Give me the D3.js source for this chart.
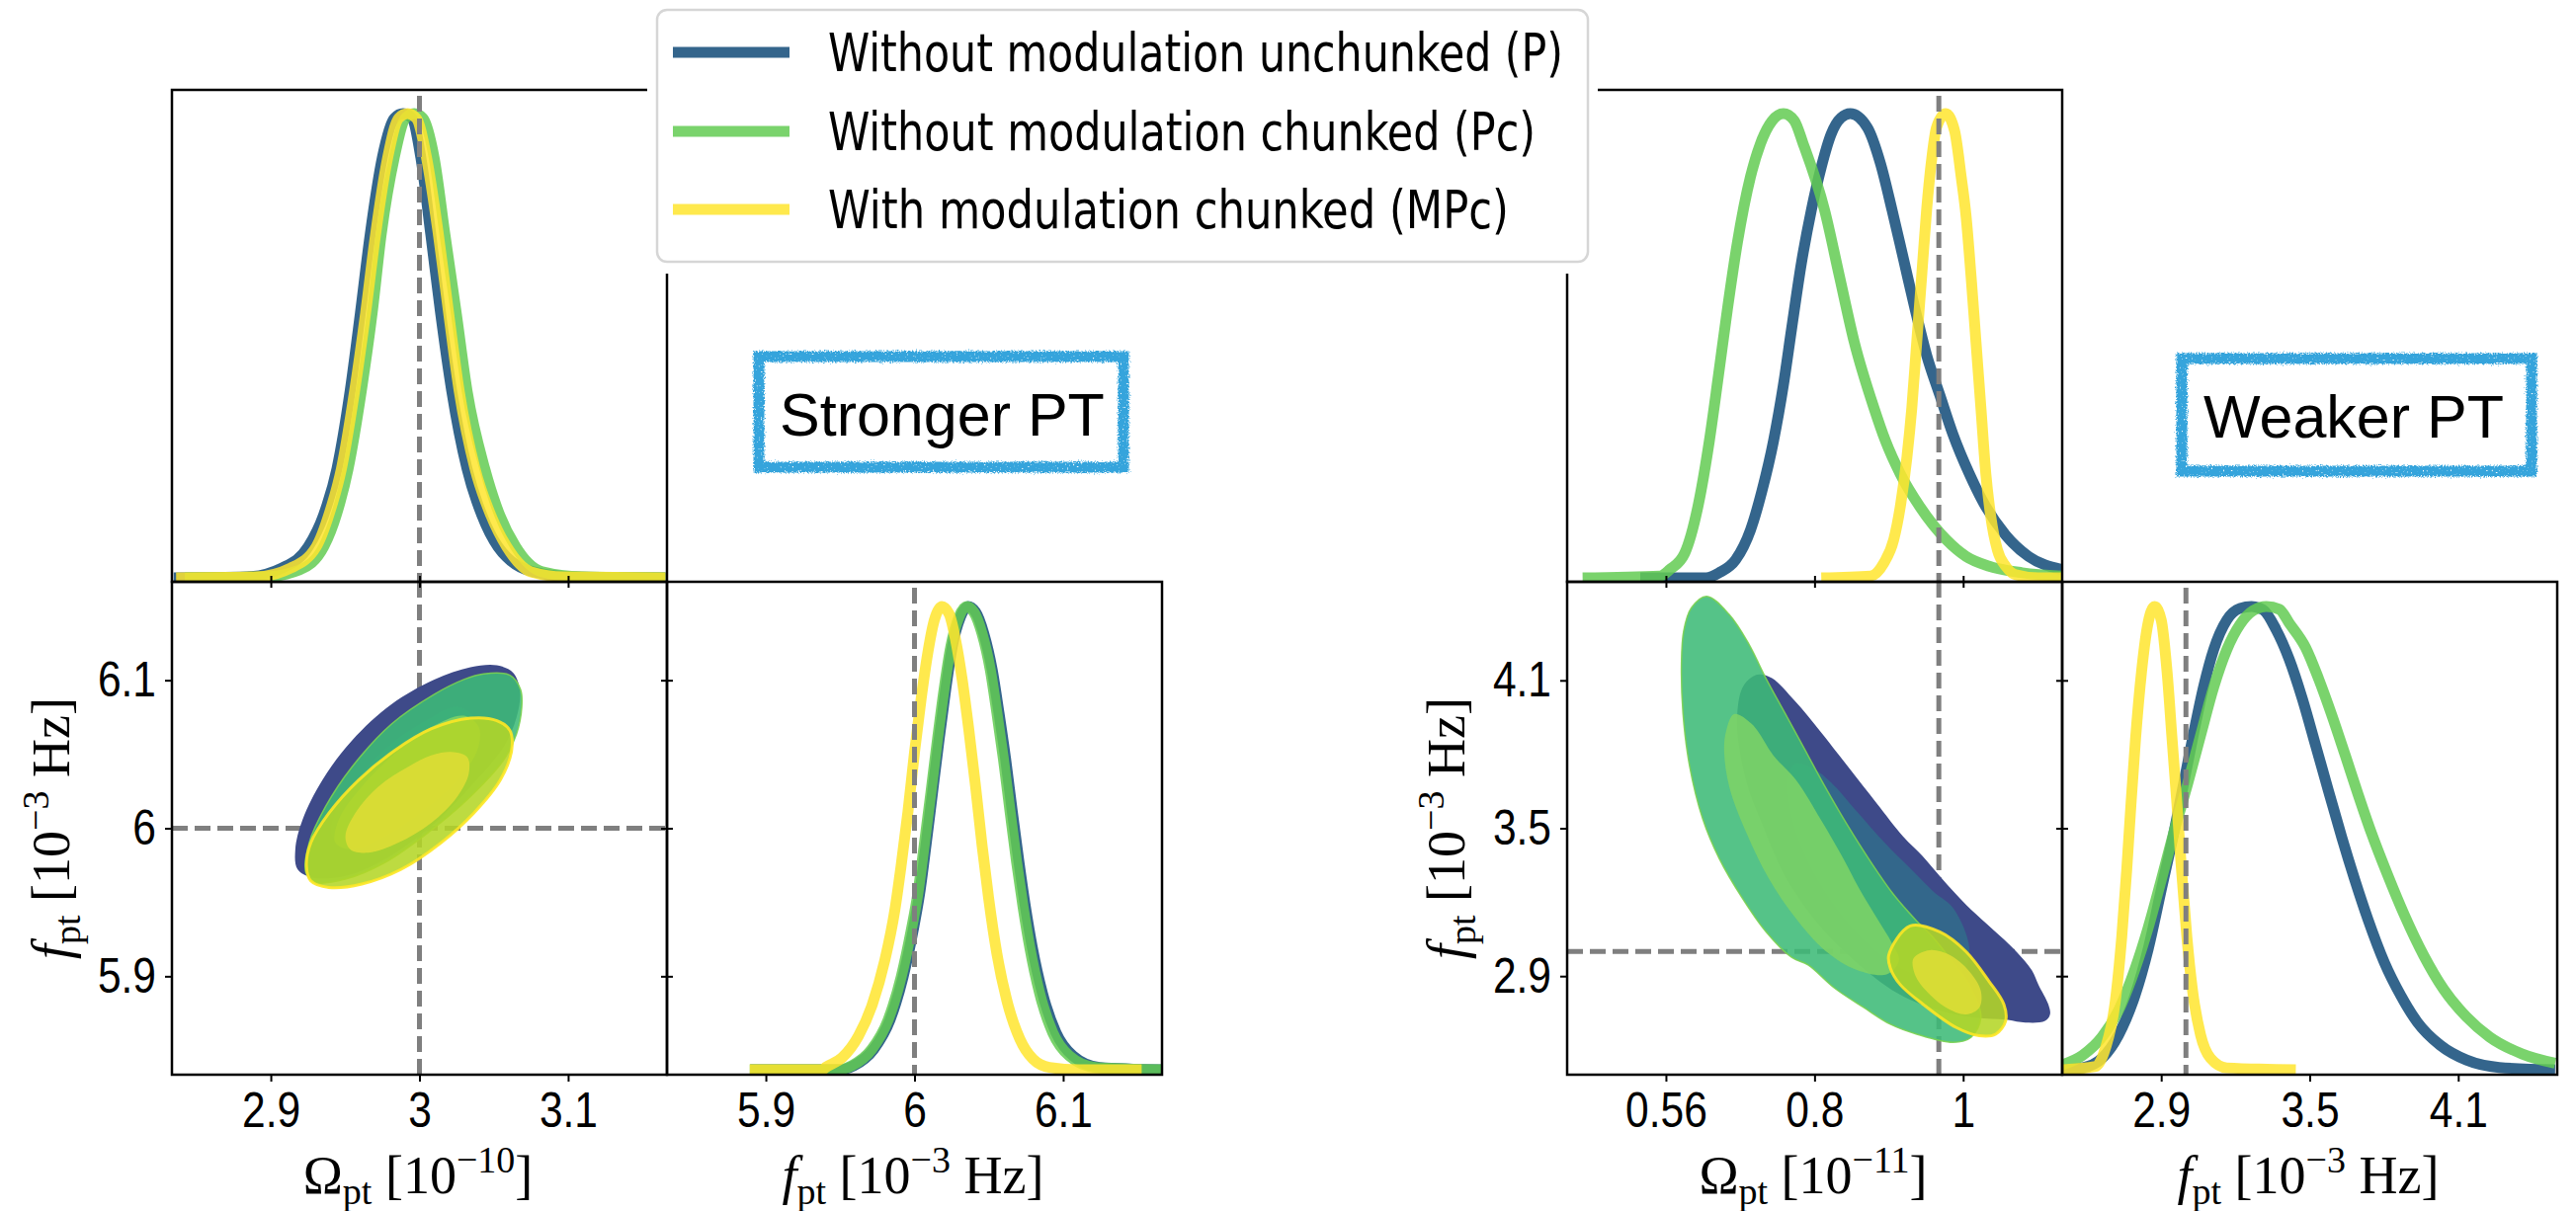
<!DOCTYPE html>
<html><head><meta charset="utf-8">
<script src="https://cdn.jsdelivr.net/npm/d3@7"></script>
<style>
html,body{margin:0;padding:0;background:#fff;}
svg{display:block;}
</style></head><body>
<svg id="chart" width="2607" height="1226"></svg>
<script>
// ---------------- DATA ----------------
const seriesNames = ["Without modulation unchunked (P)", "Without modulation chunked (Pc)", "With modulation chunked (MPc)"];
const panelTags = ["Stronger PT", "Weaker PT"];

// tick values and labels
const omegaTicksStrong = [2.9, 3.0, 3.1];
const omegaTickLabelsStrong = ["2.9", "3", "3.1"];
const freqTicksStrong = [5.9, 6.0, 6.1];
const freqTickLabelsStrong = ["5.9", "6", "6.1"];
const omegaTicksWeak = [0.56, 0.78, 1.0];
const omegaTickLabelsWeak = ["0.56", "0.8", "1"];
const freqTicksWeak = [2.9, 3.5, 4.1];
const freqTickLabelsWeak = ["2.9", "3.5", "4.1"];

// axis ranges
const omegaDomainStrong = [2.8335, 3.1665];
const freqDomainStrong = [5.8335, 6.1665];
const omegaDomainWeak = [0.4138, 1.1466];
const freqDomainWeak = [2.5, 4.5];

// injected (true) values: [Omega, f]
const truthStrong = [3.0, 6.0];
const truthWeak = [0.964, 3.0];

// ---- 1D marginals [value, normalised density] ----
const omegaStrongP = [[2.8347,0],[2.8837,0.002],[2.9074,0.021],[2.9252,0.067],[2.9355,0.135],[2.9445,0.235],[2.9534,0.403],[2.9603,0.571],[2.9668,0.738],[2.9751,0.906],[2.9831,0.99],[2.989,1.0],[2.995,0.99],[3.0009,0.906],[3.0077,0.738],[3.0142,0.571],[3.0217,0.403],[3.032,0.235],[3.042,0.135],[3.0528,0.067],[3.0765,0.013],[3.1033,0.002],[3.1655,0]];
const omegaStrongPc = [[2.8422,0],[2.8956,0.002],[2.9193,0.017],[2.9356,0.067],[2.9445,0.14],[2.952,0.235],[2.9609,0.403],[2.9682,0.571],[2.9742,0.738],[2.9831,0.906],[2.9905,0.99],[2.9964,1.0],[3.0024,0.99],[3.0098,0.906],[3.0172,0.738],[3.0247,0.571],[3.032,0.403],[3.0439,0.235],[3.054,0.135],[3.0647,0.067],[3.0825,0.013],[3.1092,0.002],[3.1655,0]];
const omegaStrongMPc = [[2.8363,0],[2.8896,0.002],[2.9133,0.021],[2.9306,0.067],[2.9395,0.14],[2.9475,0.235],[2.9564,0.403],[2.9638,0.571],[2.9704,0.738],[2.9787,0.906],[2.986,0.99],[2.992,1.0],[2.9979,0.99],[3.0047,0.906],[3.0128,0.738],[3.0196,0.571],[3.0267,0.403],[3.0374,0.235],[3.048,0.135],[3.0587,0.067],[3.075,0.013],[3.0973,0.002],[3.1655,0]];

const freqStrongP = [[5.8895,0],[5.950,0],[5.9592,0.009],[5.9725,0.044],[5.9836,0.108],[5.9924,0.201],[5.9991,0.301],[6.0034,0.379],[6.0078,0.486],[6.0122,0.600],[6.0166,0.714],[6.021,0.821],[6.0254,0.913],[6.0309,0.977],[6.036,1.0],[6.0411,0.988],[6.0466,0.942],[6.0523,0.863],[6.0568,0.771],[6.0613,0.671],[6.0658,0.557],[6.0702,0.450],[6.0747,0.350],[6.0792,0.265],[6.0861,0.165],[6.0952,0.080],[6.1066,0.030],[6.1245,0.005],[6.1661,0]];
const freqStrongPc = [[5.8892,0],[5.949,0],[5.9579,0.009],[5.9712,0.044],[5.9823,0.108],[5.9911,0.201],[5.9978,0.301],[6.0022,0.379],[6.0066,0.486],[6.0111,0.600],[6.0155,0.714],[6.0199,0.821],[6.0244,0.913],[6.0299,0.977],[6.035,1.0],[6.0399,0.988],[6.0454,0.942],[6.051,0.863],[6.0554,0.771],[6.0598,0.671],[6.0643,0.557],[6.0686,0.450],[6.0731,0.350],[6.0775,0.265],[6.0842,0.165],[6.093,0.080],[6.1041,0.030],[6.1218,0.005],[6.1661,0]];
const freqStrongMPc = [[5.8892,0],[5.938,0],[5.9402,0.005],[5.9513,0.026],[5.9623,0.073],[5.9712,0.137],[5.9801,0.237],[5.9867,0.343],[5.9911,0.443],[5.9956,0.557],[6.0,0.685],[6.0044,0.799],[6.0089,0.899],[6.0133,0.970],[6.0184,1.0],[6.0233,0.984],[6.0277,0.927],[6.0321,0.842],[6.0365,0.735],[6.041,0.614],[6.0454,0.486],[6.0498,0.372],[6.0554,0.251],[6.062,0.151],[6.0709,0.066],[6.0797,0.023],[6.0908,0.005],[6.1108,0],[6.1528,0]];

const omegaWeakP = [[0.522,0],[0.6195,0],[0.6389,0.011],[0.6633,0.039],[0.6852,0.103],[0.7023,0.188],[0.7193,0.295],[0.734,0.416],[0.7461,0.537],[0.7607,0.679],[0.7753,0.792],[0.79,0.885],[0.8046,0.956],[0.8192,0.991],[0.8329,1.0],[0.8582,0.970],[0.8777,0.892],[0.8948,0.792],[0.9118,0.686],[0.9288,0.579],[0.9459,0.480],[0.9654,0.394],[0.985,0.309],[1.0092,0.224],[1.0336,0.153],[1.0629,0.092],[1.0969,0.046],[1.1457,0.018]];
const omegaWeakPc = [[0.4367,0],[0.5512,0.004],[0.5658,0.018],[0.5878,0.053],[0.6073,0.153],[0.6243,0.295],[0.6379,0.437],[0.6511,0.579],[0.6657,0.721],[0.6852,0.864],[0.6999,0.935],[0.7169,0.984],[0.734,1.0],[0.75,0.985],[0.7632,0.935],[0.7949,0.792],[0.8168,0.650],[0.8388,0.508],[0.868,0.366],[0.885,0.295],[0.9069,0.224],[0.9361,0.153],[0.9751,0.082],[1.0044,0.046],[1.0385,0.025],[1.0873,0.011],[1.1457,0.004]];
const omegaWeakMPc = [[0.79,0],[0.863,0.004],[0.8826,0.032],[0.8972,0.082],[0.9069,0.153],[0.9167,0.259],[0.924,0.366],[0.9313,0.508],[0.9386,0.650],[0.9459,0.792],[0.9532,0.899],[0.9605,0.970],[0.9741,1.0],[0.9873,0.963],[0.9971,0.864],[1.0044,0.778],[1.0117,0.650],[1.019,0.508],[1.0263,0.366],[1.0336,0.224],[1.0409,0.132],[1.0507,0.060],[1.0629,0.025],[1.0775,0.007],[1.1115,0],[1.1457,0]];

const freqWeakP = [[2.502,0],[2.5817,0.004],[2.6613,0.025],[2.7277,0.075],[2.7938,0.160],[2.8471,0.260],[2.9,0.388],[2.9529,0.516],[2.9927,0.623],[3.0325,0.730],[3.0723,0.829],[3.1121,0.907],[3.1653,0.971],[3.2183,0.996],[3.2649,1.0],[3.3111,0.993],[3.3644,0.950],[3.4173,0.886],[3.4702,0.801],[3.5235,0.701],[3.5764,0.601],[3.6293,0.502],[3.6827,0.409],[3.7356,0.324],[3.802,0.231],[3.8681,0.160],[3.9345,0.103],[4.0273,0.053],[4.1335,0.021],[4.266,0.005],[4.4916,0]];
const freqWeakPc = [[2.502,0.011],[2.5817,0.031],[2.6613,0.071],[2.7277,0.128],[2.7938,0.217],[2.8471,0.306],[2.9,0.409],[2.9529,0.516],[3.0062,0.616],[3.0592,0.722],[3.1121,0.826],[3.1653,0.907],[3.2183,0.961],[3.2713,0.991],[3.3245,1.0],[3.3775,0.994],[3.4173,0.964],[3.4837,0.911],[3.5366,0.843],[3.5896,0.765],[3.6429,0.680],[3.6958,0.594],[3.7487,0.512],[3.8152,0.420],[3.8816,0.335],[3.9612,0.246],[4.0408,0.174],[4.1335,0.114],[4.2262,0.071],[4.3591,0.034],[4.4916,0.014]];
const freqWeakMPc = [[2.502,0],[2.6347,0.007],[2.6744,0.046],[2.7142,0.146],[2.7408,0.288],[2.7607,0.431],[2.7779,0.573],[2.7965,0.715],[2.8204,0.858],[2.8443,0.957],[2.8735,1.0],[2.9,0.971],[2.9239,0.858],[2.9438,0.715],[2.9637,0.573],[2.9822,0.431],[3.0035,0.288],[3.0259,0.174],[3.0592,0.075],[3.099,0.025],[3.1653,0.004],[3.4439,0]];

// ---- 2D credible-region boundaries [Omega, f] (outer = 95%, inner = 68%) ----
const strongP_outer = [[3.0521,6.1101],[3.0631,6.105],[3.0676,6.0927],[3.0653,6.0749],[3.0565,6.0548],[3.0343,6.0281],[3.0078,6.0013],[2.9767,5.979],[2.9502,5.9678],[2.928,5.9667],[2.918,5.9723],[2.9165,5.9857],[2.9214,6.0058],[2.9347,6.0325],[2.9546,6.0593],[2.9812,6.0838],[3.01,6.1005],[3.0343,6.1088]];
const strongP_inner = [[3.0255,6.082],[3.037,6.074],[3.036,6.058],[3.022,6.037],[3.0,6.016],[2.975,5.998],[2.952,5.99],[2.941,5.995],[2.943,6.01],[2.958,6.033],[2.98,6.056],[3.005,6.073]];
const strongPc_outer = [[3.0432,6.1043],[3.0609,6.1034],[3.068,6.0938],[3.0688,6.0816],[3.0653,6.0637],[3.0565,6.0459],[3.0343,6.0214],[3.0055,5.9968],[2.9767,5.9768],[2.9502,5.9656],[2.9302,5.9634],[2.9236,5.9701],[2.9258,5.9901],[2.9369,6.0147],[2.9546,6.0414],[2.9812,6.0704],[3.01,6.0905],[3.0299,6.1005]];
const strongPc_inner = [[3.0299,6.076],[3.0399,6.0682],[3.0388,6.0526],[3.0255,6.0325],[3.0033,6.0124],[2.9767,5.9946],[2.9546,5.9857],[2.9435,5.9901],[2.9457,6.0058],[2.9612,6.0281],[2.9834,6.0504],[3.0078,6.0682]];
const strongMPc_outer = [[3.0343,6.0744],[3.0521,6.0727],[3.0609,6.066],[3.062,6.0526],[3.0543,6.0325],[3.0365,6.0102],[3.0144,5.9901],[2.9878,5.9723],[2.9612,5.9623],[2.9391,5.96],[2.9269,5.9645],[2.924,5.9745],[2.9269,5.9901],[2.9391,6.0102],[2.959,6.0325],[2.9834,6.0526],[3.0078,6.0671]];
const strongMPc_inner = [[3.021,6.0515],[3.0321,6.0481],[3.0332,6.037],[3.0255,6.0214],[3.0078,6.0035],[2.9856,5.9901],[2.9657,5.9835],[2.9535,5.9857],[2.9502,5.9946],[2.9568,6.0102],[2.9723,6.0281],[2.9922,6.0414],[3.0078,6.0492]];

const weakP_outer = [[0.6974,4.124],[0.7169,4.1091],[0.7511,4.0156],[0.788,3.8952],[0.830,3.748],[0.872,3.6011],[0.911,3.467],[0.940,3.3868],[0.968,3.2973],[1.004,3.1901],[1.0356,3.1099],[1.0775,3.0031],[1.1019,2.9229],[1.1115,2.8651],[1.1262,2.7848],[1.1286,2.7447],[1.1213,2.7182],[1.0921,2.7114],[1.0629,2.7234],[1.019,2.7315],[0.9605,2.7636],[0.9021,2.8318],[0.8436,2.9522],[0.7851,3.1127],[0.7413,3.2812],[0.7223,3.3856],[0.7018,3.522],[0.6828,3.6544],[0.6711,3.7869],[0.6652,3.9233],[0.6711,4.0557],[0.6828,4.1039]];
const weakP_inner = [[0.7511,3.7616],[0.7778,3.7427],[0.8046,3.6853],[0.8436,3.565],[0.8826,3.4446],[0.9215,3.3374],[0.9557,3.2439],[0.985,3.1769],[1.0092,3.0124],[0.9996,2.9189],[0.9605,2.8799],[0.9021,2.9401],[0.8436,3.0726],[0.7924,3.2531],[0.7559,3.4538],[0.7413,3.6143],[0.7413,3.7146]];
const weakPc_outer = [[0.6204,4.441],[0.6536,4.3676],[0.6828,4.2472],[0.7072,4.1131],[0.7364,3.9663],[0.7657,3.819],[0.7949,3.6717],[0.829,3.5112],[0.863,3.3643],[0.8972,3.2303],[0.9313,3.1235],[0.9557,3.0565],[0.9825,2.9642],[1.0117,2.8518],[1.0263,2.7315],[1.0117,2.6512],[0.985,2.6311],[0.9313,2.6644],[0.8923,2.7046],[0.8534,2.7716],[0.8095,2.8518],[0.7705,2.9453],[0.7461,2.9762],[0.7072,3.0834],[0.673,3.217],[0.6389,3.3775],[0.6145,3.538],[0.5951,3.752],[0.5853,3.9663],[0.583,4.1669],[0.5863,4.3005],[0.5976,4.394]];
const weakPc_inner = [[0.6609,3.9634],[0.6872,3.9233],[0.7193,3.7949],[0.753,3.6946],[0.7895,3.534],[0.8217,3.3816],[0.8465,3.2531],[0.8728,3.1328],[0.8948,3.0324],[0.905,2.9642],[0.8874,2.908],[0.8436,2.9241],[0.7953,3.0043],[0.7515,3.1368],[0.712,3.2973],[0.6784,3.4859],[0.6536,3.6705],[0.6462,3.815],[0.6492,3.8952]];
const weakMPc_outer = [[0.8899,2.9855],[0.9215,3.1035],[0.9654,3.0794],[1.0044,2.9991],[1.0384,2.8787],[1.0604,2.7848],[1.0629,2.7182],[1.0482,2.6644],[1.0238,2.658],[0.9898,2.6913],[0.9411,2.7848],[0.9069,2.8651],[0.8923,2.9321]];
const weakMPc_inner = [[0.9265,2.9722],[0.9507,3.0055],[0.98,2.9855],[1.0092,2.9189],[1.0263,2.8386],[1.0238,2.7716],[1.0044,2.7447],[0.9751,2.7716],[0.9459,2.8386],[0.9288,2.9052]];

// ---------------- STYLE / LAYOUT ----------------
const lineColors = ["#104a78", "#63cb52", "#ffe52e"];
const lineOpacity = 0.85;
const fillOuter = ["#3e4a89", "#3dbb77", "#b4d627"];
const fillInner = ["#33678b", "#7dd367", "#dedd35"];
const fillOpacity = [1, 0.88, 0.88];
const edgeColor = [null, "#7ad151", "#fde725"];
const edgeWidth = [0, 1.5, 3];

const CELL = 501, TOP = 91, MID = 589, BOT = 1088;
const tickFont = "'Liberation Sans', Arial, sans-serif";
const serif = "'Liberation Serif', 'DejaVu Serif', serif";
const TICK_SX = 0.85;

const groups = [
  { x0: 174, oDom: omegaDomainStrong, fDom: freqDomainStrong, oTicks: omegaTicksStrong, oLabels: omegaTickLabelsStrong,
    fTicks: freqTicksStrong, fLabels: freqTickLabelsStrong, truth: truthStrong,
    o1d: [omegaStrongP, omegaStrongPc, omegaStrongMPc], f1d: [freqStrongP, freqStrongPc, freqStrongMPc],
    cont: [[strongP_outer, strongP_inner], [strongPc_outer, strongPc_inner], [strongMPc_outer, strongMPc_inner]],
    exp: "\u221210", tag: panelTags[0], box: [768, 361, 369, 112], tagX: 789, tagY: 441 },
  { x0: 1586, oDom: omegaDomainWeak, fDom: freqDomainWeak, oTicks: omegaTicksWeak, oLabels: omegaTickLabelsWeak,
    fTicks: freqTicksWeak, fLabels: freqTickLabelsWeak, truth: truthWeak,
    o1d: [omegaWeakP, omegaWeakPc, omegaWeakMPc], f1d: [freqWeakP, freqWeakPc, freqWeakMPc],
    cont: [[weakP_outer, weakP_inner], [weakPc_outer, weakPc_inner], [weakMPc_outer, weakMPc_inner]],
    exp: "\u221211", tag: panelTags[1], box: [2208, 363, 354, 114], tagX: 2230, tagY: 443 }
];

const svg = d3.select("#chart");
svg.append("rect").attr("width", 2607).attr("height", 1226).attr("fill", "#fff");
const defs = svg.append("defs");
const filt = defs.append("filter").attr("id", "rough").attr("x", "-10%").attr("y", "-20%").attr("width", "120%").attr("height", "140%");
filt.append("feTurbulence").attr("type", "fractalNoise").attr("baseFrequency", "0.7").attr("numOctaves", 2).attr("seed", 4).attr("result", "noise");
filt.append("feDisplacementMap").attr("in", "SourceGraphic").attr("in2", "noise").attr("scale", 6).attr("xChannelSelector", "R").attr("yChannelSelector", "G").attr("result", "disp");
filt.append("feTurbulence").attr("type", "fractalNoise").attr("baseFrequency", "0.5").attr("numOctaves", 1).attr("seed", 11).attr("result", "n2");
filt.append("feColorMatrix").attr("in", "n2").attr("type", "matrix")
  .attr("values", "0 0 0 0 0  0 0 0 0 0  0 0 0 0 0  0 0 0 7 -1.3").attr("result", "mask");
filt.append("feComposite").attr("in", "disp").attr("in2", "mask").attr("operator", "in");

function dashed(g, x1, y1, x2, y2) {
  g.append("line").attr("x1", x1).attr("y1", y1).attr("x2", x2).attr("y2", y2)
    .attr("stroke", "#7f7f7f").attr("stroke-width", 5).attr("stroke-dasharray", "16,7");
}
function styleAxis(g, side) {
  g.select(".domain").remove();
  g.selectAll(".tick line").attr("stroke", "#000").attr("stroke-width", 2);
  const t = g.selectAll(".tick text").attr("font-family", tickFont).attr("font-size", 50).attr("fill", "#000");
  if (side === "left") {
    t.attr("x", -16 / TICK_SX).attr("transform", `scale(${TICK_SX},1)`);
  } else if (side === "bottom") {
    t.attr("transform", `scale(${TICK_SX},1)`);
  }
  g.attr("font-family", null).attr("font-size", null);
}
function mathLabel(parent, x, y, rot, parts) {
  const t = parent.append("text").attr("transform", `translate(${x},${y}) rotate(${rot})`)
    .attr("text-anchor", "middle").attr("font-family", serif).attr("font-size", 54).attr("fill", "#000");
  let shift = 0;
  parts.forEach(p => {
    const target = p.sub ? 11 : (p.sup ? -21 : 0);
    const ts = t.append("tspan").attr("dy", target - shift).text(p.t);
    shift = target;
    if (p.sub || p.sup) ts.attr("font-size", 38);
    if (p.it) ts.attr("font-style", "italic");
  });
}

groups.forEach((G, gi) => {
  const xO = d3.scaleLinear().domain(G.oDom).range([G.x0, G.x0 + CELL]);
  const xF = d3.scaleLinear().domain(G.fDom).range([G.x0 + CELL, G.x0 + 2 * CELL]);
  const yF = d3.scaleLinear().domain(G.fDom).range([BOT, MID]);
  const yTop = d3.scaleLinear().domain([0, 1]).range([MID - 4, TOP + 24]);
  const yBR = d3.scaleLinear().domain([0, 1]).range([BOT - 5, MID + 25]);

  const clips = { t: [G.x0, TOP, CELL, MID - TOP], c: [G.x0, MID, CELL, BOT - MID], r: [G.x0 + CELL, MID, CELL, BOT - MID] };
  Object.entries(clips).forEach(([k, r]) => {
    defs.append("clipPath").attr("id", `clip${gi}${k}`).append("rect")
      .attr("x", r[0]).attr("y", r[1]).attr("width", r[2]).attr("height", r[3]);
  });

  // --- top 1D: Omega marginal
  const gT = svg.append("g").attr("clip-path", `url(#clip${gi}t)`);
  const lineO = d3.line().x(p => xO(p[0])).y(p => yTop(p[1])).curve(d3.curveMonotoneX);
  G.o1d.forEach((d, i) => gT.append("path").datum(d).attr("d", lineO).attr("fill", "none")
    .attr("stroke", lineColors[i]).attr("stroke-opacity", lineOpacity).attr("stroke-width", 11).attr("stroke-linejoin", "round"));
  dashed(svg, xO(G.truth[0]), TOP + 6, xO(G.truth[0]), MID);

  // --- 2D panel
  const gC = svg.append("g").attr("clip-path", `url(#clip${gi}c)`);
  dashed(gC, xO(G.truth[0]), MID, xO(G.truth[0]), BOT);
  dashed(gC, G.x0, yF(G.truth[1]), G.x0 + CELL, yF(G.truth[1]));
  const cl = d3.line().x(p => xO(p[0])).y(p => yF(p[1])).curve(d3.curveCatmullRomClosed.alpha(0.5));
  G.cont.forEach((pair, i) => {
    gC.append("path").datum(pair[0]).attr("d", cl).attr("fill", fillOuter[i]).attr("fill-opacity", fillOpacity[i])
      .attr("stroke", edgeColor[i] || "none").attr("stroke-width", edgeWidth[i]).attr("stroke-opacity", 0.9);
    gC.append("path").datum(pair[1]).attr("d", cl).attr("fill", fillInner[i]).attr("fill-opacity", fillOpacity[i]);
  });

  // --- bottom-right 1D: f marginal
  const gR = svg.append("g").attr("clip-path", `url(#clip${gi}r)`);
  const lineF = d3.line().x(p => xF(p[0])).y(p => yBR(p[1])).curve(d3.curveMonotoneX);
  G.f1d.forEach((d, i) => gR.append("path").datum(d).attr("d", lineF).attr("fill", "none")
    .attr("stroke", lineColors[i]).attr("stroke-opacity", lineOpacity).attr("stroke-width", 11).attr("stroke-linejoin", "round"));
  dashed(svg, xF(G.truth[1]), MID + 6, xF(G.truth[1]), BOT);

  // --- spines
  [clips.t, clips.c, clips.r].forEach(r => svg.append("rect").attr("x", r[0]).attr("y", r[1]).attr("width", r[2]).attr("height", r[3])
    .attr("fill", "none").attr("stroke", "#000").attr("stroke-width", 2.5));

  // --- ticks
  styleAxis(svg.append("g").attr("transform", `translate(0,${MID - 6})`)
    .call(d3.axisBottom(xO).tickValues(G.oTicks).tickSize(12).tickFormat("")));
  styleAxis(svg.append("g").attr("transform", `translate(${G.x0 + CELL + 6},0)`)
    .call(d3.axisLeft(yF).tickValues(G.fTicks).tickSize(12).tickFormat("")));
  styleAxis(svg.append("g").attr("transform", `translate(${G.x0},0)`)
    .call(d3.axisLeft(yF).tickValues(G.fTicks).tickSize(7).tickPadding(9).tickFormat((d, i) => G.fLabels[i])), "left");
  styleAxis(svg.append("g").attr("transform", `translate(0,${BOT})`)
    .call(d3.axisBottom(xO).tickValues(G.oTicks).tickSize(7).tickPadding(11).tickFormat((d, i) => G.oLabels[i])), "bottom");
  styleAxis(svg.append("g").attr("transform", `translate(0,${BOT})`)
    .call(d3.axisBottom(xF).tickValues(G.fTicks).tickSize(7).tickPadding(11).tickFormat((d, i) => G.fLabels[i])), "bottom");

  // --- axis labels
  mathLabel(svg, G.x0 + 249, 1208, 0, [{ t: "\u03A9" }, { t: "pt", sub: 1 }, { t: "\u00a0[10" }, { t: G.exp, sup: 1 }, { t: "]" }]);
  mathLabel(svg, G.x0 + CELL + 249, 1208, 0, [{ t: "f", it: 1 }, { t: "pt", sub: 1 }, { t: "\u00a0[10" }, { t: "\u22123", sup: 1 }, { t: "\u00a0Hz]" }]);
  mathLabel(svg, G.x0 - 104, (MID + BOT) / 2, -90, [{ t: "f", it: 1 }, { t: "pt", sub: 1 }, { t: "\u00a0[10" }, { t: "\u22123", sup: 1 }, { t: "\u00a0Hz]" }]);

  // --- tag box
  svg.append("rect").attr("x", G.box[0]).attr("y", G.box[1]).attr("width", G.box[2]).attr("height", G.box[3])
    .attr("fill", "none").attr("stroke", "#35a4dc").attr("stroke-width", 11).attr("filter", "url(#rough)");
  svg.append("text").attr("x", G.tagX).attr("y", G.tagY).attr("font-family", tickFont).attr("font-size", 61)
    .attr("fill", "#000").text(G.tag);
});

// ---------------- LEGEND ----------------
svg.append("rect").attr("x", 655).attr("y", 0).attr("width", 962).attr("height", 277).attr("fill", "#fff");
svg.append("rect").attr("x", 665).attr("y", 10).attr("width", 942).attr("height", 255).attr("rx", 10)
  .attr("fill", "#fff").attr("stroke", "#d6d6d6").attr("stroke-width", 2.5);
const legY = [53, 133, 212];
const legW = [744, 716, 689];
seriesNames.forEach((name, i) => {
  svg.append("line").attr("x1", 681).attr("x2", 799).attr("y1", legY[i]).attr("y2", legY[i])
    .attr("stroke", lineColors[i]).attr("stroke-opacity", lineOpacity).attr("stroke-width", 11);
  svg.append("text").attr("x", 838).attr("y", legY[i] + 19).attr("font-family", "'Liberation Sans Narrow','DejaVu Sans Condensed','Liberation Sans',sans-serif")
    .attr("font-size", 53).attr("textLength", legW[i]).attr("lengthAdjust", "spacingAndGlyphs").attr("fill", "#000").text(name);
});
</script>
</body></html>
